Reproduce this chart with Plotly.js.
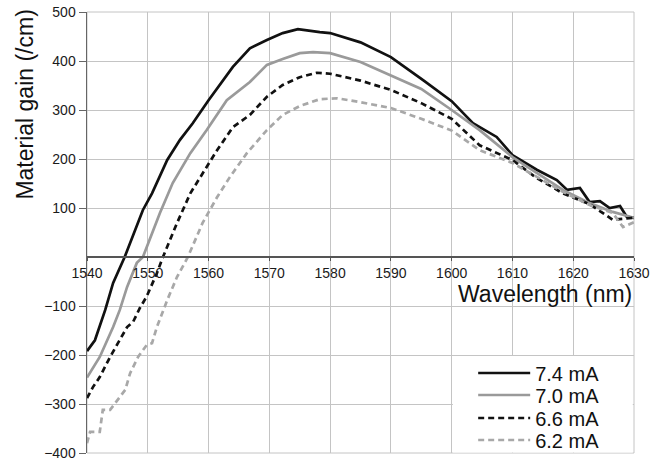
<!DOCTYPE html>
<html>
<head>
<meta charset="utf-8">
<script src="https://cdn.plot.ly/plotly-3.0.1.min.js"></script>
<style>html,body{margin:0;padding:0;background:#fff;}#chart{width:662px;height:462px;}</style>
</head>
<body>
<div id="chart"></div>
<script>
// 7.4 mA
const wl74 = [1540,1541.3,1543,1544.3,1546.2,1549.2,1550.7,1553.2,1555.3,1557.4,1560,1564,1566.8,1569.6,1572.2,1574.7,1578.3,1580,1585,1590,1595.3,1600,1603.5,1607.4,1610,1614,1617.3,1619,1621.1,1622.7,1624.4,1626,1627.7,1628.8,1630];
const g74  = [-192,-170,-108,-53,0,96,130,198,239,273,320,388,426,443,457,465,459,457,438,408,361,318,273,245,208,178,157,137,141,112,114,100,104,82,80];
// 7.0 mA
const wl70 = [1540,1542.1,1544.3,1545.4,1546.6,1548.2,1549.2,1552,1554.1,1557,1559.7,1563,1566.8,1569.6,1572.2,1575,1577.2,1580,1585,1590,1595,1600,1604.6,1610,1614,1618.3,1622.7,1626.5,1630];
const g70  = [-246,-204,-143,-108,-61,-12,0,90,151,212,259,320,357,392,404,416,418,416,398,371,343,300,259,204,171,137,110,92,80];
// 6.6 mA
const wl66 = [1540,1541,1542.1,1543.8,1545.4,1546.6,1547.6,1548.7,1549.8,1551.5,1552.5,1554.8,1557,1559,1561.4,1564,1566.8,1569.6,1572.2,1575,1577.8,1580,1585,1590,1595,1600,1604.6,1610,1614,1618.3,1622.7,1626.5,1630];
const g66  = [-288,-265,-245,-204,-169,-143,-132,-104,-81,-33,0,69,130,171,218,265,290,327,351,367,376,374,360,341,314,282,228,198,161,130,108,76,80];
// 6.2 mA
const wl62 = [1540,1540.5,1542.1,1542.6,1543.8,1545.4,1546.3,1547.1,1548.4,1549.8,1550.7,1551.5,1553.2,1554.8,1556.6,1559,1561.4,1563.5,1566.3,1569.6,1572.2,1575,1578.3,1581.1,1585,1590,1595,1600,1604.6,1610,1614,1618.3,1622.7,1626.5,1628.2,1630];
const g62  = [-380,-357,-357,-312,-312,-285,-271,-237,-204,-180,-176,-143,-88,-41,0,69,122,163,212,259,290,308,322,324,316,304,282,258,218,192,163,133,106,90,61,71];

const seriesNames = ["7.4 mA","7.0 mA","6.6 mA","6.2 mA"];
const xTicks = [1540,1550,1560,1570,1580,1590,1600,1610,1620,1630];
const yTicks = [-400,-300,-200,-100,100,200,300,400,500];

const FONT = "Liberation Sans, Arial, sans-serif";
const traces = [
  {x: wl74, y: g74, name: seriesNames[0], legend: "legend",  line: {color: "#111111", width: 2.7}},
  {x: wl70, y: g70, name: seriesNames[1], legend: "legend2", line: {color: "#9a9a9a", width: 2.7}},
  {x: wl66, y: g66, name: seriesNames[2], legend: "legend3", line: {color: "#111111", width: 2.7, dash: "6px,4px"}},
  {x: wl62, y: g62, name: seriesNames[3], legend: "legend4", line: {color: "#a8a8a8", width: 2.7, dash: "6px,4px"}}
].map(t => Object.assign({type: "scatter", mode: "lines", hoverinfo: "skip"}, t));

function leg(yc) {
  return {x: 0.706, y: yc, xanchor: "left", yanchor: "middle", bgcolor: "rgba(0,0,0,0)",
          font: {family: FONT, size: 20, color: "#111"}, itemwidth: 52};
}

const layout = {
  width: 662, height: 462,
  margin: {l: 87, r: 28, t: 12, b: 9, autoexpand: false},
  paper_bgcolor: "#ffffff", plot_bgcolor: "#ffffff",
  font: {family: FONT, color: "#222", size: 13},
  showlegend: true,
  legend: leg(0.1814), legend2: leg(0.1315), legend3: leg(0.0794), legend4: leg(0.0295),
  xaxis: {
    range: [1540, 1630], tickvals: xTicks, ticktext: xTicks.map(String),
    anchor: "free", position: 4/9, showline: true, linecolor: "#555", linewidth: 2,
    ticks: "outside", ticklen: 3, tickcolor: "#555", tickwidth: 1,
    showgrid: true, gridcolor: "#c4c4c4", gridwidth: 1, zeroline: false,
    tickfont: {family: FONT, size: 14, color: "#1a1a1a"}
  },
  yaxis: {
    range: [-400, 500], tickvals: yTicks, ticktext: yTicks.map(v => v < 0 ? "\u2212" + Math.abs(v) : String(v)),
    showline: true, linecolor: "#666", linewidth: 1.5,
    ticks: "outside", ticklen: 7, tickcolor: "#666",
    showgrid: true, gridcolor: "#c4c4c4", gridwidth: 1, zeroline: false,
    tickfont: {family: FONT, size: 14, color: "#1a1a1a"}
  },
  shapes: [
    {type: "rect", xref: "paper", yref: "paper", x0: 0, x1: 1, y0: 0, y1: 1,
     line: {color: "#c4c4c4", width: 1}, fillcolor: "rgba(0,0,0,0)", layer: "below"},
    {type: "rect", xref: "x", yref: "y", x0: 1600.2, x1: 1629.8, y0: -399, y1: -202,
     line: {width: 0}, fillcolor: "#ffffff", layer: "between"}
  ],
  annotations: [
    {text: "Material gain (/cm)", xref: "paper", yref: "paper", x: -62/547, y: 0.79,
     xanchor: "center", yanchor: "middle", textangle: -90, showarrow: false,
     font: {family: FONT, size: 23, color: "#111"}},
    {text: "Wavelength (nm)", xref: "paper", yref: "y", x: 1, y: -75,
     xanchor: "right", yanchor: "middle", showarrow: false,
     font: {family: FONT, size: 23, color: "#111"}}
  ]
};

Plotly.newPlot("chart", traces, layout, {displayModeBar: false, staticPlot: true});
</script>
</body>
</html>
